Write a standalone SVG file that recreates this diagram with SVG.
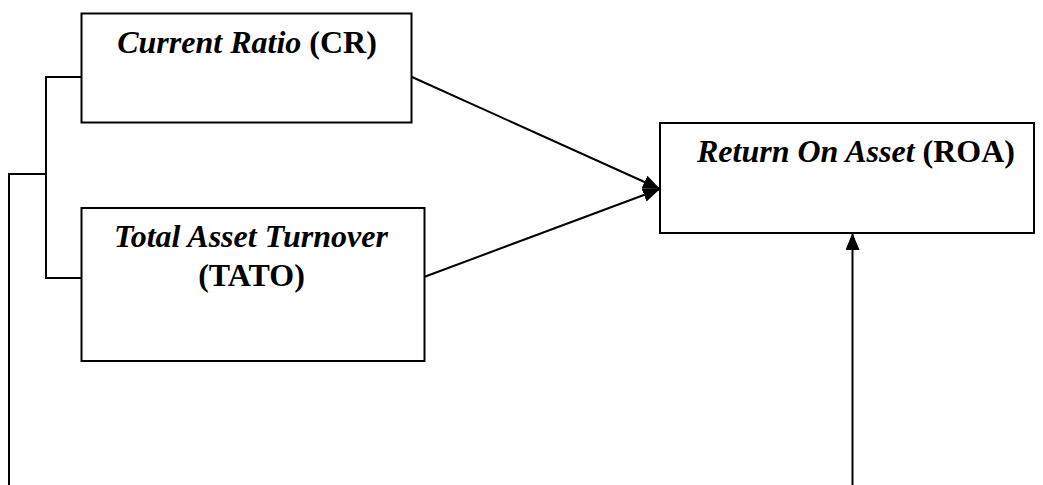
<svg xmlns="http://www.w3.org/2000/svg" width="1043" height="485" viewBox="0 0 1043 485">
<style>
.box{fill:#fff;stroke:#000;stroke-width:2}
.ln{fill:none;stroke:#000;stroke-width:2}
.t{font-family:'Liberation Serif','Times New Roman',serif;font-size:32px;font-weight:bold;fill:#000}
.i{font-style:italic}
</style>
<defs>
<marker id="ah" viewBox="0 0 17 14" refX="17" refY="7" markerWidth="17" markerHeight="14" markerUnits="userSpaceOnUse" orient="auto">
<path d="M0,0 L17,7 L0,14 Z" fill="#000"/>
</marker>
</defs>
<g id="connectors">
<polyline class="ln" points="81,77 46,77 46,278 81,278"/>
<polyline class="ln" points="46,174 9,174 9,485"/>
<line class="ln" x1="412" y1="77" x2="660" y2="189" marker-end="url(#ah)"/>
<line class="ln" x1="424" y1="277" x2="660" y2="189" marker-end="url(#ah)"/>
<line class="ln" x1="852.5" y1="485" x2="852.5" y2="233" marker-end="url(#ah)"/>
</g>
<g id="cr">
<rect class="box" x="81.5" y="13.5" width="330" height="109"/>
<text class="t" x="247" y="53" text-anchor="middle"><tspan class="i">Current Ratio</tspan> (CR)</text>
</g>
<g id="tato">
<rect class="box" x="81.5" y="208" width="343" height="153"/>
<text class="t" x="251" y="247" text-anchor="middle"><tspan class="i">Total Asset Turnover</tspan></text>
<text class="t" x="251.5" y="286" text-anchor="middle">(TATO)</text>
</g>
<g id="roa">
<rect class="box" x="660" y="123" width="374" height="110"/>
<text class="t" x="856" y="162" text-anchor="middle"><tspan class="i">Return On Asset</tspan> (ROA)</text>
</g>
</svg>
